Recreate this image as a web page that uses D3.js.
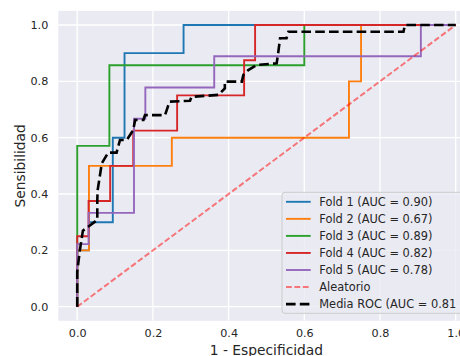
<!DOCTYPE html>
<html>
<head>
<meta charset="utf-8">
<script src="https://cdn.jsdelivr.net/npm/d3@7"></script>
<style>
  html, body { margin: 0; padding: 0; background: #fff; }
  svg { display: block; font-family: "DejaVu Sans", sans-serif; }
</style>
</head>
<body>
<svg id="chart" width="460" height="356"></svg>
<script>
// ---- data ----
const ticks = [0.0, 0.2, 0.4, 0.6, 0.8, 1.0];
const tickLabels = ["0.0", "0.2", "0.4", "0.6", "0.8", "1.0"];

const fold1Fpr = [0, 0, 0.031, 0.031, 0.094, 0.094, 0.125, 0.125, 0.281, 0.281, 1];
const fold1Tpr = [0, 0.2, 0.2, 0.3, 0.3, 0.6, 0.6, 0.9, 0.9, 1, 1];

const fold2Fpr = [0, 0, 0.031, 0.031, 0.25, 0.25, 0.718, 0.718, 0.75, 0.75, 1];
const fold2Tpr = [0, 0.2, 0.2, 0.5, 0.5, 0.6, 0.6, 0.8, 0.8, 1, 1];

const fold3Fpr = [0, 0, 0.085, 0.085, 0.6, 0.6, 1];
const fold3Tpr = [0, 0.571, 0.571, 0.857, 0.857, 1, 1];

const fold4Fpr = [0, 0, 0.03, 0.03, 0.087, 0.087, 0.148, 0.148, 0.264, 0.264, 0.441, 0.441, 0.47, 0.47, 1];
const fold4Tpr = [0, 0.25, 0.25, 0.375, 0.375, 0.5, 0.5, 0.625, 0.625, 0.75, 0.75, 0.875, 0.875, 1, 1];

const fold5Fpr = [0, 0, 0.03, 0.03, 0.15, 0.15, 0.18, 0.18, 0.362, 0.362, 0.908, 0.908, 1];
const fold5Tpr = [0, 0.222, 0.222, 0.333, 0.333, 0.667, 0.667, 0.778, 0.778, 0.889, 0.889, 1, 1];

const meanFpr = [0, 0, 0.007, 0.015, 0.029, 0.053, 0.053, 0.054, 0.065, 0.082, 0.104, 0.113, 0.131, 0.148, 0.153, 0.175, 0.179, 0.232, 0.244, 0.298, 0.302, 0.373, 0.390, 0.390, 0.435, 0.439, 0.452, 0.474, 0.527, 0.531, 0.536, 0.553, 0.558, 0.862, 0.866, 1];
const meanTpr = [0, 0.124, 0.2, 0.27, 0.284, 0.308, 0.379, 0.414, 0.509, 0.547, 0.547, 0.592, 0.592, 0.627, 0.663, 0.663, 0.680, 0.680, 0.728, 0.731, 0.745, 0.752, 0.775, 0.799, 0.799, 0.823, 0.840, 0.858, 0.864, 0.900, 0.953, 0.953, 0.976, 0.976, 1.0, 1];

const chanceFpr = [0, 1];
const chanceTpr = [0, 1];

const foldLabels = ["Fold 1 (AUC = 0.90)", "Fold 2 (AUC = 0.67)", "Fold 3 (AUC = 0.89)", "Fold 4 (AUC = 0.82)", "Fold 5 (AUC = 0.78)"];
const chanceLabel = "Aleatorio";
const meanLabel = "Media ROC (AUC = 0.81 ± 0.08)";
const xLabel = "1 - Especificidad";
const yLabel = "Sensibilidad";

// ---- layout ----
const svg = d3.select("#chart");
const pL = 58.3, pR = 474.6, pT = 10.9, pB = 320.8;
const x = d3.scaleLinear().domain([-0.05, 1.05]).range([pL, pR]);
const y = d3.scaleLinear().domain([-0.05, 1.05]).range([pB, pT]);

const colors = ["#1f77b4", "#ff7f0e", "#2ca02c", "#d62728", "#9467bd"];

svg.append("rect").attr("x", pL).attr("y", pT)
  .attr("width", pR - pL).attr("height", pB - pT)
  .attr("fill", "#eaeaf2");

svg.append("defs").append("clipPath").attr("id", "clip")
  .append("rect").attr("x", pL).attr("y", pT)
  .attr("width", pR - pL).attr("height", pB - pT);

// grid
const grid = svg.append("g");
grid.selectAll("line.v").data(ticks).enter().append("line").attr("class", "v")
  .attr("x1", d => x(d)).attr("x2", d => x(d))
  .attr("y1", pT).attr("y2", pB)
  .attr("stroke", "#fff").attr("stroke-width", 1.3);
grid.selectAll("line.h").data(ticks).enter().append("line").attr("class", "h")
  .attr("y1", d => y(d)).attr("y2", d => y(d))
  .attr("x1", pL).attr("x2", pR)
  .attr("stroke", "#fff").attr("stroke-width", 1.3);

// axes
const xAxis = d3.axisBottom(x).tickValues(ticks).tickFormat((d, i) => tickLabels[i])
  .tickSize(0).tickPadding(8);
const gx = svg.append("g").attr("transform", `translate(0,${pB})`).call(xAxis);
gx.select(".domain").remove();
gx.selectAll("text").attr("font-size", 11.2).attr("fill", "#262626")
  .attr("font-family", "DejaVu Sans, sans-serif");

const yAxis = d3.axisLeft(y).tickValues(ticks).tickFormat((d, i) => tickLabels[i])
  .tickSize(0).tickPadding(10);
const gy = svg.append("g").attr("transform", `translate(${pL},0)`).call(yAxis);
gy.select(".domain").remove();
gy.selectAll("text").attr("font-size", 11.2).attr("fill", "#262626")
  .attr("font-family", "DejaVu Sans, sans-serif");

svg.append("text").attr("x", (pL + pR) / 2).attr("y", 355)
  .attr("text-anchor", "middle").attr("font-size", 13.8).attr("fill", "#262626")
  .text(xLabel);
svg.append("text").attr("transform", `translate(25,${(pT + pB) / 2}) rotate(-90)`)
  .attr("text-anchor", "middle").attr("font-size", 13.8).attr("fill", "#262626")
  .text(yLabel);

// lines
const plot = svg.append("g").attr("clip-path", "url(#clip)");
const line = d3.line().x(d => x(d[0])).y(d => y(d[1]));
const folds = [
  [fold1Fpr, fold1Tpr], [fold2Fpr, fold2Tpr], [fold3Fpr, fold3Tpr],
  [fold4Fpr, fold4Tpr], [fold5Fpr, fold5Tpr]
];
folds.forEach((f, i) => {
  plot.append("path").datum(d3.zip(f[0], f[1]))
    .attr("d", line).attr("fill", "none")
    .attr("stroke", colors[i]).attr("stroke-width", 1.9);
});
plot.append("path").datum(d3.zip(chanceFpr, chanceTpr))
  .attr("d", line).attr("fill", "none")
  .attr("stroke", "red").attr("stroke-opacity", 0.5)
  .attr("stroke-width", 2).attr("stroke-dasharray", "5.8,2.6");
plot.append("path").datum(d3.zip(meanFpr, meanTpr))
  .attr("d", line).attr("fill", "none")
  .attr("stroke", "#000").attr("stroke-width", 2.6)
  .attr("stroke-dasharray", "9.6,4.2");

// legend
const lg = svg.append("g");
lg.append("rect").attr("x", 282).attr("y", 192.3).attr("width", 200).attr("height", 121)
  .attr("rx", 3).attr("fill", "#eaeaf2").attr("fill-opacity", 0.8)
  .attr("stroke", "#cccccc").attr("stroke-width", 1);
const entries = foldLabels.map((t, i) => ({ t, c: colors[i], dash: null, w: 1.9, op: 1 }));
entries.push({ t: chanceLabel, c: "red", dash: "5.8,2.6", w: 2, op: 0.5 });
entries.push({ t: meanLabel, c: "#000", dash: "9.6,4.2", w: 2.6, op: 1 });
entries.forEach((e, i) => {
  const yy = 201.8 + i * 17.05;
  const l = lg.append("line").attr("x1", 286).attr("x2", 310.7).attr("y1", yy).attr("y2", yy)
    .attr("stroke", e.c).attr("stroke-width", e.w).attr("stroke-opacity", e.op);
  if (e.dash) l.attr("stroke-dasharray", e.dash);
  lg.append("text").attr("x", 319.3).attr("y", yy).attr("dy", "0.36em")
    .attr("font-size", 11.4).attr("fill", "#262626").text(e.t);
});
</script>
</body>
</html>
